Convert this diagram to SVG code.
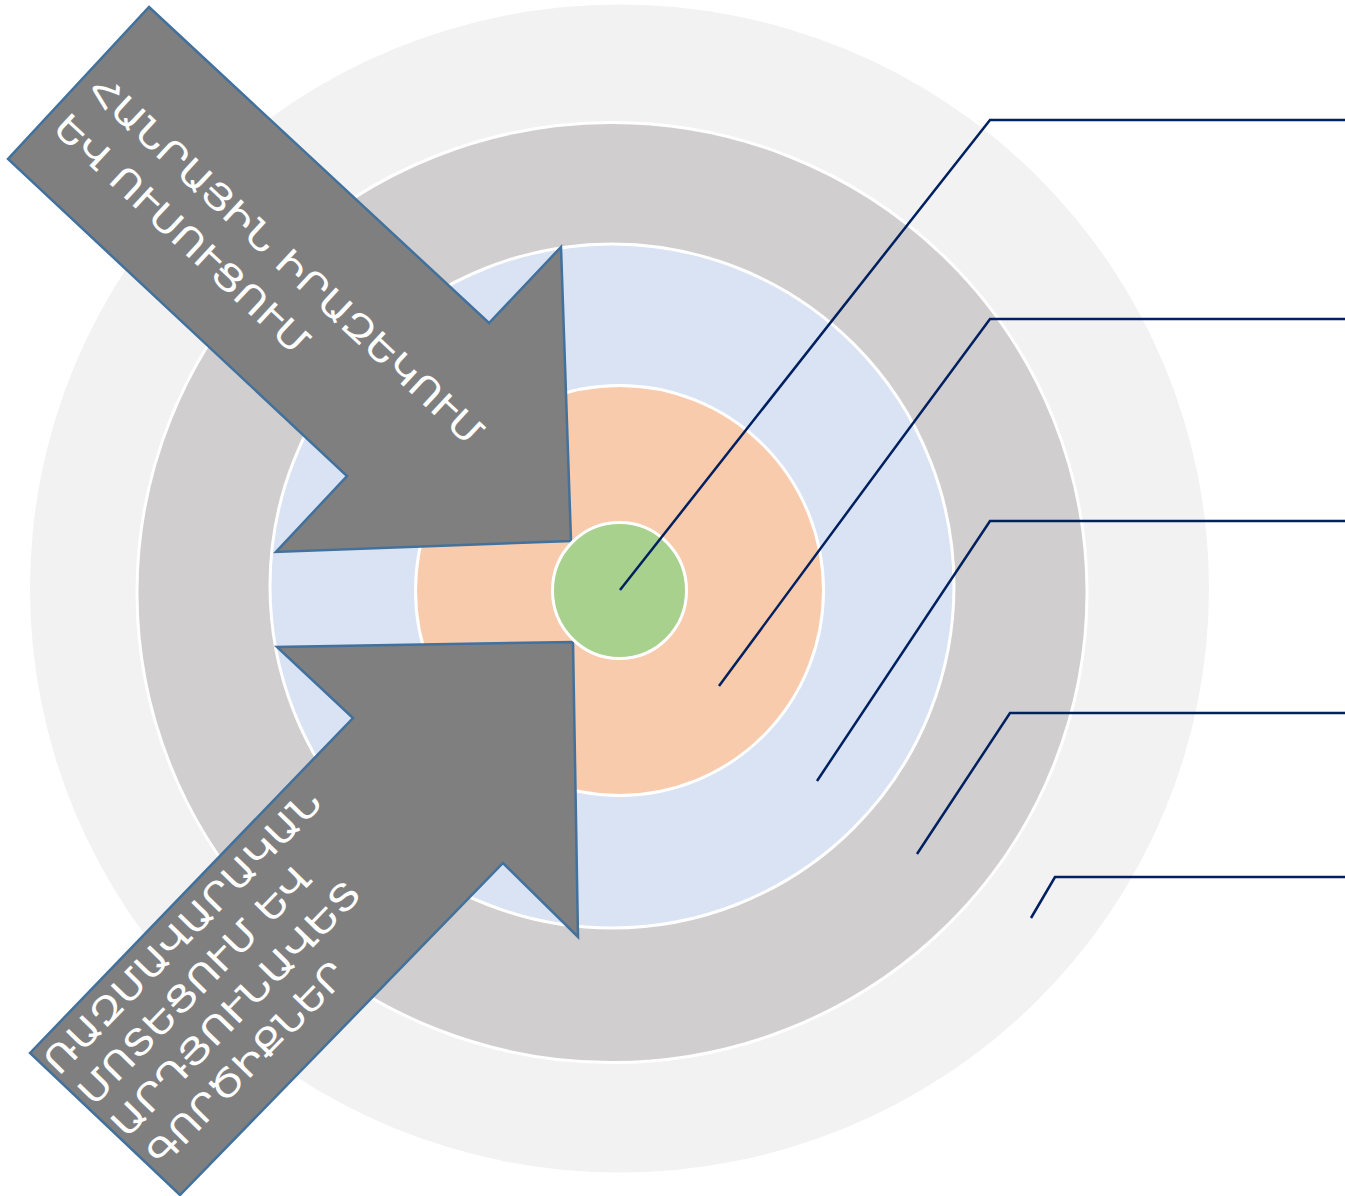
<svg xmlns="http://www.w3.org/2000/svg" width="1345" height="1196" viewBox="0 0 1345 1196">
<style>
.ring{stroke:#FFFFFF;stroke-width:3}
.arrow{fill:#7F7F7F;stroke:#41719C;stroke-width:2.5;stroke-linejoin:miter}
.lbl{fill:#FFFFFF;font-family:"DejaVu Sans","Noto Sans",sans-serif;font-size:36px;font-weight:400}
.conn{fill:none;stroke:#002060;stroke-width:2.5}
</style>
<rect width="1345" height="1196" fill="#FFFFFF"/>
<g id="ring-outer"><ellipse cx="619.5" cy="588.5" rx="589.5" ry="584" fill="#F2F2F2"/></g>
<g id="ring-gray"><ellipse class="ring" cx="612" cy="592.5" rx="475" ry="470" fill="#D0CECE"/></g>
<g id="ring-blue"><ellipse class="ring" cx="612" cy="586" rx="342" ry="342" fill="#DAE3F3"/></g>
<g id="ring-orange"><ellipse class="ring" cx="619.5" cy="590.5" rx="204" ry="205" fill="#F8CBAD"/></g>
<g id="arrow-top">
<polygon class="arrow" points="149,7 489,323 561,247 571,541 276,552 347,476 8,159"/>
<g transform="translate(78.5,83) rotate(42.9)">
<text class="lbl" x="12" y="1" textLength="522" lengthAdjust="spacingAndGlyphs">ՀԱՆՐԱՅԻՆ ԻՐԱԶԵԿՈՒՄ</text>
<text class="lbl" x="12" y="53" textLength="333" lengthAdjust="spacingAndGlyphs">ԵՎ ՈՒՍՈՒՑՈՒՄ</text>
</g>
</g>
<g id="arrow-bottom">
<polygon class="arrow" points="30,1053 353,718 277,647 573,642 578,937 503,863 180,1195"/>
<g transform="translate(105,1124) rotate(-45.8)">
<text class="lbl" x="2" y="-66" textLength="380" lengthAdjust="spacingAndGlyphs">ՌԱԶՄԱՎԱՐԱԿԱՆ</text>
<text class="lbl" x="4" y="-20" textLength="316" lengthAdjust="spacingAndGlyphs">ՄՈՏԵՑՈՒՄ ԵՎ</text>
<text class="lbl" x="4" y="26" textLength="340" lengthAdjust="spacingAndGlyphs">ԱՐԴՅՈՒՆԱՎԵՏ</text>
<text class="lbl" x="8" y="72" textLength="268" lengthAdjust="spacingAndGlyphs">ԳՈՐԾԻՔՆԵՐ</text>
</g>
</g>
<g id="center"><ellipse class="ring" cx="619.5" cy="590.5" rx="67" ry="68" fill="#A9D18E"/></g>
<g id="connectors">
<path class="conn" d="M620,590 L990,120 L1345,120"/>
<path class="conn" d="M719,686 L990,319 L1345,319"/>
<path class="conn" d="M817,781 L990,521 L1345,521"/>
<path class="conn" d="M917,854 L1010,713 L1345,713"/>
<path class="conn" d="M1031,918 L1055,877 L1345,877"/>
</g>
</svg>
